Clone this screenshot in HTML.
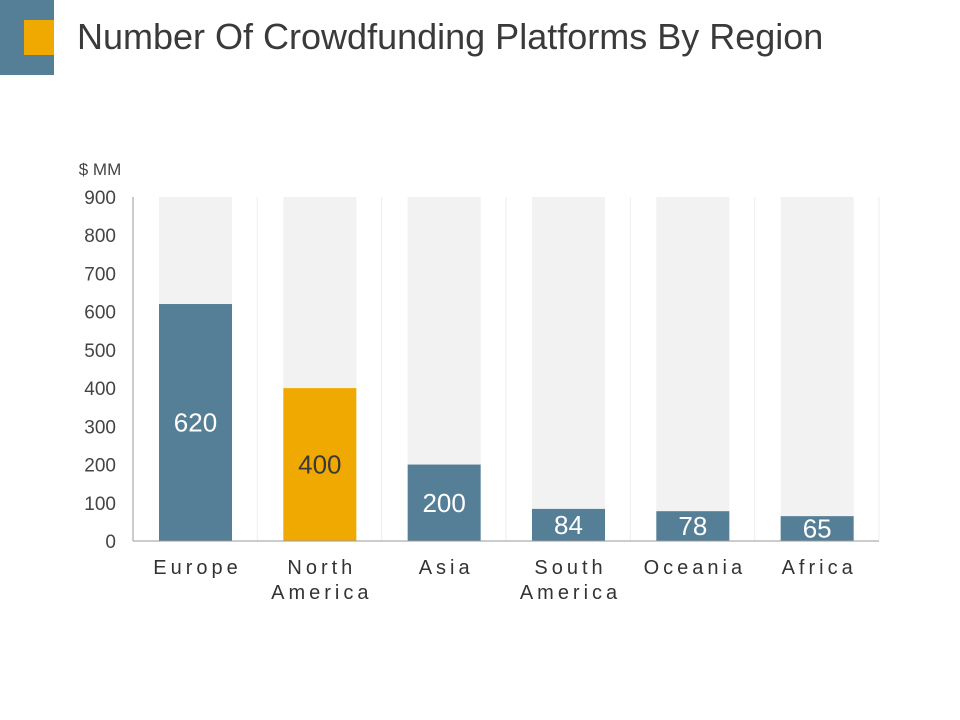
<!DOCTYPE html>
<html><head><meta charset="utf-8"><style>
body{margin:0;width:960px;height:720px;background:#fff;font-family:"Liberation Sans",sans-serif;overflow:hidden;position:relative}
#title{position:absolute;left:77px;top:16px;font-size:36px;color:#3a3a3a;white-space:nowrap}
</style></head><body>
<div style="position:absolute;left:0;top:0;width:54px;height:75px;background:#557f97"></div>
<div style="position:absolute;left:24px;top:20px;width:30px;height:35px;background:#f0a900"></div>
<div id="title">Number Of Crowdfunding Platforms By Region</div>
<svg id="chart" width="960" height="720" style="position:absolute;left:0;top:0"></svg>
<script>
const categories=[["Europe"],["North","America"],["Asia"],["South","America"],["Oceania"],["Africa"]];
const values=[620,400,200,84,78,65];
const highlight=[false,true,false,false,false,false];
const ticks=[0,100,200,300,400,500,600,700,800,900];
const maxV=900;
const ns="http://www.w3.org/2000/svg";
const svg=document.getElementById('chart');
const x0=133,x1=879,y0=541,yTop=197;
const cw=(x1-x0)/categories.length;
const y=v=>y0-(v/maxV)*(y0-yTop);
function mk(t,a){const e=document.createElementNS(ns,t);for(const k in a)e.setAttribute(k,a[k]);svg.appendChild(e);return e;}
const unit=mk('text',{x:100,y:175,'font-size':17,fill:'#444','text-anchor':'middle'});unit.textContent='$ MM';


ticks.forEach(t=>{const e=mk('text',{x:116,y:y(t)+7,'font-size':19,fill:'#444','text-anchor':'end'});e.textContent=t;

});
categories.forEach((c,i)=>{
 const gx=x0+cw*(i+1);
 const g=mk('line',{x1:gx,x2:gx,y1:yTop,y2:y0,stroke:'#eeeeee','stroke-width':1});
 
 
 const bx=x0+cw*i+26,bw=73;
 const bg=mk('rect',{x:bx,y:y(maxV),width:bw,height:y0-y(maxV),fill:'#f2f2f2'});
 
 
 const b=mk('rect',{x:bx,y:y(values[i]),width:bw,height:y0-y(values[i]),fill:highlight[i]?'#f0a900':'#557f97'});
 
 
 const v=mk('text',{x:bx+bw/2,y:(y(values[i])+y0)/2+9,'font-size':26,fill:highlight[i]?'#3a3a3a':'#fff','text-anchor':'middle'});
 v.textContent=values[i];
 
 
 c.forEach((w,j)=>{const t=mk('text',{x:bx+bw/2+2,y:574+j*25,'font-size':20,fill:'#333','text-anchor':'middle','letter-spacing':'4px'});t.textContent=w;
 
 });
});
const ax=mk('line',{x1:x0,x2:x0,y1:yTop,y2:y0,stroke:'#999','stroke-width':1});


const bx2=mk('line',{x1:x0,x2:x1,y1:y0,y2:y0,stroke:'#999','stroke-width':1});


</script>
</body></html>
